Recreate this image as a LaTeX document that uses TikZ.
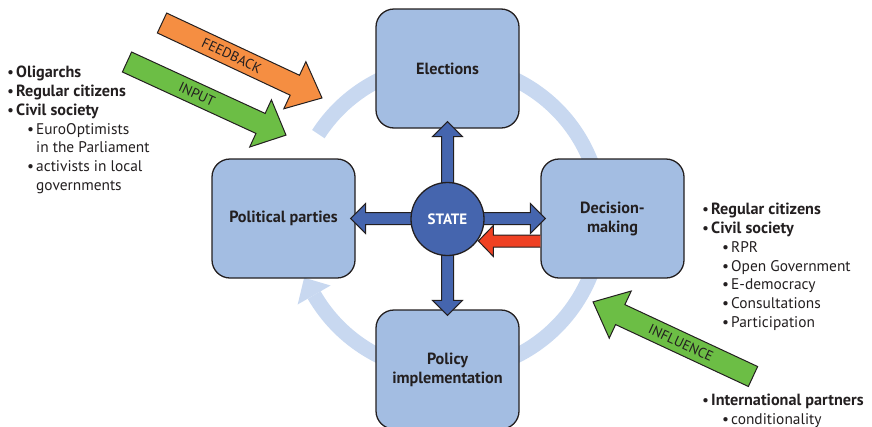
\documentclass[tikz,border=0pt]{standalone}
\usepackage{fontspec}
\setmainfont{PT Sans}
\usetikzlibrary{calc}
\definecolor{boxfill}{RGB}{163,189,226}
\definecolor{ringc}{RGB}{200,216,240}
\definecolor{stateblue}{RGB}{69,101,174}
\definecolor{redarr}{RGB}{239,65,35}
\definecolor{orangearr}{RGB}{245,142,66}
\definecolor{greenarr}{RGB}{108,190,69}
\definecolor{outl}{RGB}{35,31,32}
\tikzset{
  box/.style={draw=outl, line width=1.3pt, fill=boxfill, rounded corners=18pt,
    minimum width=143pt, minimum height=119pt, align=center, inner sep=0pt,
    text=outl, font=\fontsize{16.2}{19}\selectfont\bfseries},
  barrow/.style={draw=outl, line width=1pt, fill=stateblue, line join=miter},
  rarrow/.style={draw=outl, line width=1pt, fill=redarr},
  oarrow/.style={draw=outl, line width=1pt, fill=orangearr},
  garrow/.style={draw=outl, line width=1pt, fill=greenarr},
  lbl/.style={text=outl, font=\fontsize{14}{16}\selectfont, inner sep=0pt},
  listtxt/.style={text=outl, align=left, inner sep=0pt, anchor=north west,
    font=\fontsize{15.4}{18.8}\selectfont},
}
\newcommand{\bl}{\makebox[9pt][l]{•}}
\newcommand{\sbl}{\hspace*{20pt}\makebox[9pt][l]{•}}
\newcommand{\scont}{\hspace*{29pt}}
\newcommand{\bitem}[1]{\bl{\fontsize{16.2}{18.8}\selectfont\bfseries #1}}
\begin{document}
\begin{tikzpicture}[x=1pt,y=1pt]
\useasboundingbox (0,0) rectangle (872,-426);
% ring
\coordinate (rc) at (447.5,-218);
\draw[ringc, line width=15pt] ($(rc)+(147:154)$) arc[start angle=147, end angle=-150, radius=154];
\fill[ringc] ($(rc)+(-150:154)+(-150:19)$) -- ($(rc)+(-150:154)+(-150:-19)$) -- ($(rc)+(-150:154)+(120:20)$) -- cycle;
% boxes
\node[box] (el) at (447.5,-68.5) {Elections};
\node[box] (pp) at (283.5,-218.5) {Political parties};
\node[box] (dm) at (612.5,-218.5) {Decision-\\making};
\node[box] (pi) at (447.5,-369.5) {Policy\\implementation};
% blue double arrows
\draw[barrow] ($(pp.east)+(-5,0)$) -- ++(15,15) -- ++(0,-9) -- ($(dm.west)+(-10,6)$) -- ++(0,9) -- ++(15,-15) -- ++(-15,-15) -- ++(0,9) -- ($(pp.east)+(10,-6)$) -- ++(0,-9) -- cycle;
\draw[barrow] ($(el.south)+(0,7)$) -- ++(15,-15) -- ++(-9,0) -- ($(pi.north)+(6,9)$) -- ++(9,0) -- ++(-15,-15) -- ++(-15,15) -- ++(9,0) -- ($(el.south)+(-6,-8)$) -- ++(-9,0) -- cycle;
% red arrow
\draw[rarrow] ($(dm.west)+(0,-16.5)$) -- ($(dm.west)+(-47,-16.5)$) -- ($(dm.west)+(-47,-7)$) -- ($(dm.west)+(-62,-22.5)$) -- ($(dm.west)+(-47,-38)$) -- ($(dm.west)+(-47,-28.5)$) -- ($(dm.west)+(0,-28.5)$);
% state
\node[circle, draw=outl, line width=1.3pt, fill=stateblue, minimum size=73pt, inner sep=0pt,
  text=white, font=\fontsize{15}{18}\selectfont\bfseries] (st) at (447.5,-219) {STATE};
% feedback arrow
\begin{scope}[shift={(162,-23)}, rotate=-25.1]
\draw[oarrow] (0,11) -- (146.7,11) -- (146.7,26) -- (176.7,0) -- (146.7,-26) -- (146.7,-11) -- (0,-11) -- cycle;
\node[lbl, transform shape] (fbl) at (77,0) {FEEDBACK};
\end{scope}
% input arrow
\begin{scope}[shift={(127,-62)}, rotate=-24.7]
\draw[garrow] (0,11) -- (147,11) -- (147,26) -- (175,0) -- (147,-26) -- (147,-11) -- (0,-11) -- cycle;
\node[lbl, transform shape] (inl) at (77,0) {INPUT};
\end{scope}
% influence arrow
\begin{scope}[shift={(753,-376.5)}, rotate=155]
\draw[garrow] (0,11) -- (146.5,11) -- (146.5,26) -- (176.5,0) -- (146.5,-26) -- (146.5,-11) -- (0,-11) -- cycle;
\end{scope}
\node[lbl, rotate=-25] (ifl) at (681,-343) {INFLUENCE};
% lists
\node[listtxt] (left) at (7,-66) {\bitem{Oligarchs}\\\bitem{Regular citizens}\\\bitem{Civil society}\\\sbl EuroOptimists\\\scont in the Parliament\\\sbl activists in local\\\scont governments};
\node[listtxt] (right) at (702,-203) {\bitem{Regular citizens}\\\bitem{Civil society}\\\sbl RPR\\\sbl Open Government\\\sbl E-democracy\\\sbl Consultations\\\sbl Participation};
\node[listtxt] (intl) at (702,-394) {\bitem{International partners}\\\sbl conditionality};
\end{tikzpicture}
\end{document}
